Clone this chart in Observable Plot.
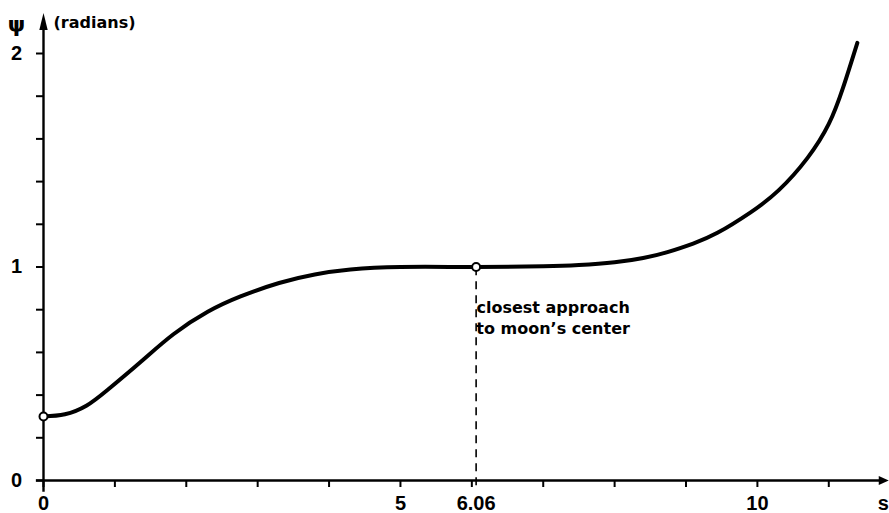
<!DOCTYPE html>
<html>
<head>
<meta charset="utf-8">
<script src="https://cdn.jsdelivr.net/npm/d3@7"></script>
<script src="https://cdn.jsdelivr.net/npm/@observablehq/plot@0.6"></script>
<style>
  html, body { margin: 0; padding: 0; background: #fff; }
  #chart svg { display: block; overflow: visible; }
</style>
</head>
<body>
<div id="chart"></div>
<script>
// Arc length s along the trajectory and the angle psi (radians)
const s   = [0, 0.3, 0.6, 0.9, 1.36, 1.82, 2.3, 2.76, 3.3, 3.8, 4.3, 5.0, 6.06, 7.0, 7.5, 8.0, 8.4, 8.74, 9.1, 9.44, 9.9, 10.3, 10.7, 11.0, 11.2, 11.4];
const psi = [0.30, 0.31, 0.35, 0.425, 0.555, 0.685, 0.79, 0.862, 0.925, 0.965, 0.988, 1.0, 1.0, 1.003, 1.009, 1.022, 1.042, 1.07, 1.11, 1.16, 1.255, 1.36, 1.51, 1.67, 1.84, 2.05];

// Point of closest approach to the moon's center
const closestS = 6.06;
const closestPsi = 1.0;
const noteText = "closest approach\nto moon\u2019s center";

// Axis ticks and labels
const xTicks  = [0, 1, 2, 3, 4, 5, 6, 7, 8, 9, 10, 11];
const xLabels = [0, 5, 6.06, 10];
const yTicks  = [0, 0.2, 0.4, 0.6, 0.8, 1, 1.2, 1.4, 1.6, 1.8, 2];
const yLabels = [0, 1, 2];

const data = s.map((v, i) => ({s: v, psi: psi[i]}));
const openPoints = data.filter(d => d.s === 0 || d.s === closestS);

// Narrow filled arrowheads for the axis ends (origin at the tip)
const arrowUp = {draw(ctx) { ctx.moveTo(0, 0); ctx.lineTo(4.2, 17); ctx.lineTo(-4.2, 17); ctx.closePath(); }};
const arrowRight = {draw(ctx) { ctx.moveTo(0, 0); ctx.lineTo(-10, 4.5); ctx.lineTo(-10, -4.5); ctx.closePath(); }};

const numFont = "'Liberation Sans', Arial, sans-serif";
const textFont = "'DejaVu Sans', sans-serif";

const chart = Plot.plot({
  width: 889,
  height: 513,
  marginLeft: 43,
  marginRight: 3.6,
  marginTop: 10.3,
  marginBottom: 33,
  x: {domain: [0, 11.8]},
  y: {domain: [0, 2.2]},
  style: {background: "#fff", color: "#000"},
  marks: [
    // axis lines
    Plot.ruleY([0], {x1: -0.1, x2: 11.72, strokeWidth: 2.4}),
    Plot.ruleX([0], {y1: -0.055, y2: 2.13, strokeWidth: 2.4}),
    Plot.dot([0], {x: 0, y: 2.19, symbol: arrowUp, fill: "#000", stroke: null}),
    Plot.dot([0], {x: 11.84, y: 0, symbol: arrowRight, fill: "#000", stroke: null}),

    // tick marks
    Plot.axisX({ticks: xTicks, tickSize: 7, strokeWidth: 2, tickFormat: () => "", label: null}),
    Plot.axisY({ticks: yTicks, tickSize: 7, strokeWidth: 2, tickFormat: () => "", label: null}),

    // tick labels
    Plot.text(xLabels, {x: d => d, y: 0, dy: 23, text: d => String(d), fontSize: 20, fontFamily: numFont, fontWeight: "bold", letterSpacing: "1px", textAnchor: "middle"}),
    Plot.text(["s"], {x: 11.8, y: 0, dx: 3, dy: 23, text: d => d, fontSize: 20, fontFamily: numFont, fontWeight: "bold", textAnchor: "end"}),
    Plot.text(yLabels, {x: 0, y: d => d, dx: -27, text: d => String(d), fontSize: 20, fontFamily: numFont, fontWeight: "bold", textAnchor: "middle"}),

    // y-axis title
    Plot.text(["\u03c8"], {x: 0, y: 2.2, dx: -27, dy: 14, text: d => d, fontSize: 22, fontFamily: textFont, fontWeight: "bold", textAnchor: "middle"}),
    Plot.text(["(radians)"], {x: 0, y: 2.2, dx: 10, dy: 12, text: d => d, fontSize: 16, fontFamily: textFont, fontWeight: "bold", textAnchor: "start"}),

    // closest approach marker
    Plot.ruleX([closestS], {y1: -0.025, y2: closestPsi, strokeWidth: 1.6, strokeDasharray: "8,6"}),
    Plot.text([noteText], {x: closestS, y: closestPsi, dx: 77, dy: 50, text: d => d, fontSize: 16, fontFamily: textFont, fontWeight: "bold", textAnchor: "middle", lineAnchor: "middle", lineHeight: 1.3}),

    // psi(s)
    Plot.line(data, {x: "s", y: "psi", curve: "natural", strokeWidth: 4}),
    Plot.dot(openPoints, {x: "s", y: "psi", r: 4, fill: "#fff", stroke: "#000", strokeWidth: 2})
  ]
});

document.getElementById("chart").appendChild(chart);
</script>
</body>
</html>
